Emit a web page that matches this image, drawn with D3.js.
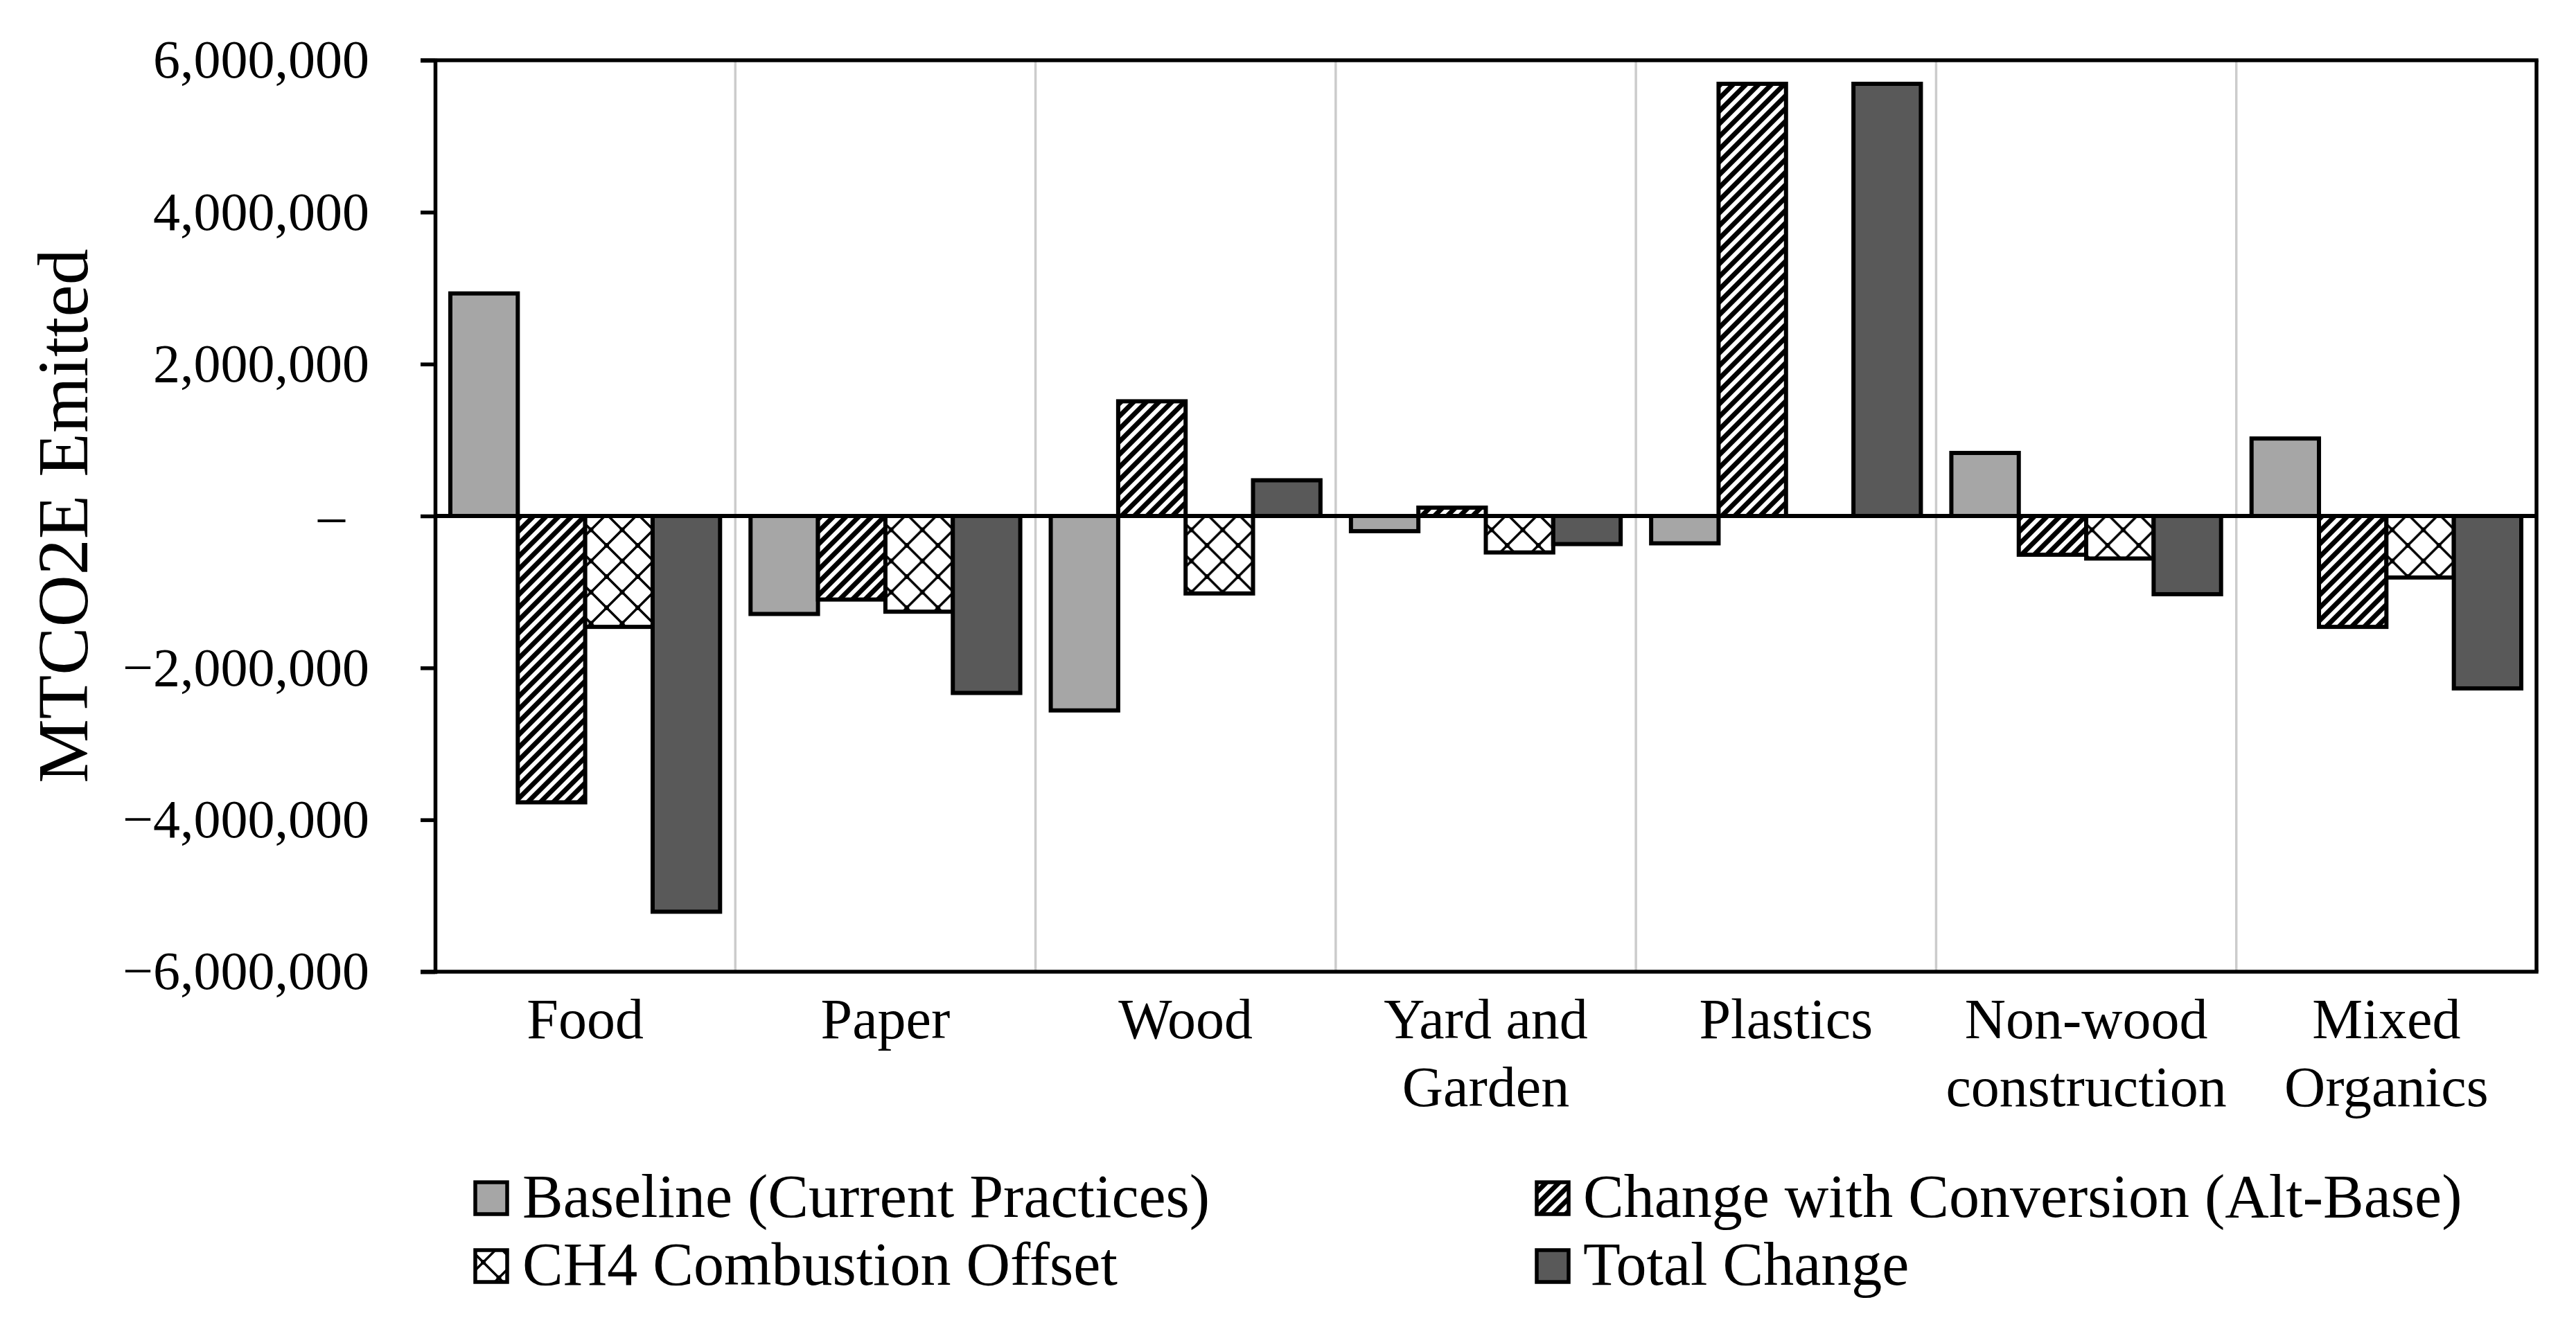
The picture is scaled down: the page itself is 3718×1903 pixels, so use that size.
<!DOCTYPE html>
<html>
<head>
<meta charset="utf-8">
<script src="https://cdn.jsdelivr.net/npm/d3@7"></script>
<style>
  html, body { margin: 0; padding: 0; background: #ffffff; }
  svg { display: block; font-family: "Liberation Serif", "Times New Roman", serif; }
</style>
</head>
<body>
<svg id="chart" width="3718" height="1903"></svg>
<script>
// ---------- data ----------
const categories = ["Food", "Paper", "Wood", "Yard and Garden", "Plastics", "Non-wood construction", "Mixed Organics"];
const categoryLines = [["Food"], ["Paper"], ["Wood"], ["Yard and", "Garden"], ["Plastics"], ["Non-wood", "construction"], ["Mixed", "Organics"]];
const seriesNames = ["Baseline (Current Practices)", "Change with Conversion (Alt-Base)", "CH4 Combustion Offset", "Total Change"];
const baseline   = [2930000, -1290000, -2560000, -200000, -360000, 830000, 1020000];
const conversion = [-3770000, -1100000, 1510000, 110000, 5690000, -510000, -1460000];
const ch4Offset  = [-1460000, -1260000, -1020000, -480000, 0, -560000, -810000];
const totalChange = [-5210000, -2330000, 470000, -370000, 5690000, -1030000, -2270000];
const yTicks = [-6000000, -4000000, -2000000, 0, 2000000, 4000000, 6000000];
const yTitle = "MTCO2E Emitted";

const seriesValues = [baseline, conversion, ch4Offset, totalChange];
const fills = ["#a6a6a6", "url(#stripes)", "url(#diamonds)", "#595959"];

// ---------- layout ----------
const plot = { left: 628, right: 3661, top: 87, bottom: 1403 };
const svg = d3.select("#chart");

// patterns
const defs = svg.append("defs");
const stripes = defs.append("pattern")
  .attr("id", "stripes").attr("patternUnits", "userSpaceOnUse")
  .attr("width", 13).attr("height", 13)
  .attr("patternTransform", "rotate(45)");
stripes.append("rect").attr("width", 13).attr("height", 13).attr("fill", "#ffffff");
stripes.append("rect").attr("x", 0).attr("width", 7).attr("height", 13).attr("fill", "#000000");

const dia = defs.append("pattern")
  .attr("id", "diamonds").attr("patternUnits", "userSpaceOnUse")
  .attr("width", 45).attr("height", 45);
dia.append("rect").attr("width", 45).attr("height", 45).attr("fill", "#ffffff");
dia.append("path").attr("d", "M0,0L45,45M45,0L0,45")
  .attr("stroke", "#000").attr("stroke-width", 3.5).attr("fill", "none");
[[0,0],[45,0],[0,45],[45,45],[22.5,22.5]].forEach(p => {
  dia.append("circle").attr("cx", p[0]).attr("cy", p[1]).attr("r", 3.5).attr("fill", "#000");
});

// scales
const y = d3.scaleLinear().domain([-6000000, 6000000]).range([plot.bottom, plot.top]);
const x0 = d3.scaleBand().domain(categories).range([plot.left, plot.right]).paddingInner(0).paddingOuter(0);
const x1 = d3.scaleBand().domain(d3.range(seriesNames.length)).range([0, x0.bandwidth()])
  .paddingInner(0).paddingOuter(0.226);

// category dividers
svg.append("g").selectAll("line")
  .data(categories.slice(1))
  .join("line")
  .attr("x1", d => x0(d)).attr("x2", d => x0(d))
  .attr("y1", plot.top).attr("y2", plot.bottom)
  .attr("stroke", "#cccccc").attr("stroke-width", 3.5);

// bars
const groups = svg.append("g").selectAll("g")
  .data(categories)
  .join("g")
  .attr("transform", d => `translate(${x0(d)},0)`);

groups.selectAll("rect")
  .data((d, i) => seriesValues.map((vals, s) => ({ s, v: vals[i] })))
  .join("rect")
  .attr("x", d => x1(d.s))
  .attr("width", x1.bandwidth())
  .attr("y", d => y(Math.max(0, d.v)))
  .attr("height", d => Math.abs(y(d.v) - y(0)))
  .attr("fill", d => fills[d.s])
  .attr("stroke", d => d.v === 0 ? "none" : "#000")
  .attr("stroke-width", 6);

// plot frame: top and right borders, bottom line
svg.append("line").attr("x1", plot.left - 21).attr("x2", plot.right + 2.75)
  .attr("y1", plot.top).attr("y2", plot.top).attr("stroke", "#000").attr("stroke-width", 5.5);
svg.append("line").attr("x1", plot.right).attr("x2", plot.right)
  .attr("y1", plot.top).attr("y2", plot.bottom).attr("stroke", "#000").attr("stroke-width", 5.5);
svg.append("line").attr("x1", plot.left - 21).attr("x2", plot.right + 2.75)
  .attr("y1", plot.bottom).attr("y2", plot.bottom).attr("stroke", "#000").attr("stroke-width", 5.5);
// zero line
svg.append("line").attr("x1", plot.left).attr("x2", plot.right)
  .attr("y1", y(0)).attr("y2", y(0)).attr("stroke", "#000").attr("stroke-width", 6);

// y axis
const fmt = d3.format(",");
const yAxis = d3.axisLeft(y).tickValues(yTicks).tickSize(21).tickPadding(74)
  .tickFormat(d => d === 0 ? "–" : fmt(d));
const yg = svg.append("g").attr("transform", `translate(${plot.left},0)`).call(yAxis);
yg.select(".domain").attr("stroke", "#000").attr("stroke-width", 5.5);
yg.selectAll(".tick line").attr("stroke", "#000").attr("stroke-width", 5.5);
yg.selectAll(".tick text")
  .attr("fill", "#000")
  .style("font-family", "'Liberation Serif', 'Times New Roman', serif")
  .style("font-size", "78px")
  .attr("x", d => d === 0 ? -130 : -95);

// y title
svg.append("text")
  .attr("transform", `translate(90, ${(plot.top + plot.bottom) / 2}) rotate(-90)`)
  .attr("text-anchor", "middle")
  .attr("dominant-baseline", "central")
  .style("font-size", "104px")
  .attr("fill", "#000")
  .text(yTitle);

// category labels
const catG = svg.append("g").selectAll("text")
  .data(categories)
  .join("text")
  .attr("x", d => x0(d) + x0.bandwidth() / 2)
  .attr("text-anchor", "middle")
  .style("font-size", "82px")
  .attr("fill", "#000");
catG.each(function(d, i) {
  const t = d3.select(this);
  categoryLines[i].forEach((line, j) => {
    t.append("tspan")
      .attr("x", x0(d) + x0.bandwidth() / 2)
      .attr("y", 1499 + j * 98)
      .text(line);
  });
});

// legend
const legendPos = [
  { sx: 686, tx: 754, base: 1757 },
  { sx: 2218, tx: 2285, base: 1757 },
  { sx: 686, tx: 754, base: 1855 },
  { sx: 2218, tx: 2285, base: 1855 }
];
const legend = svg.append("g").selectAll("g")
  .data(seriesNames)
  .join("g");
legend.append("rect")
  .attr("x", (d, i) => legendPos[i].sx)
  .attr("y", (d, i) => legendPos[i].base - 50)
  .attr("width", 46).attr("height", 46)
  .attr("fill", (d, i) => fills[i])
  .attr("stroke", "#000").attr("stroke-width", 5.5);
legend.append("text")
  .attr("x", (d, i) => legendPos[i].tx)
  .attr("y", (d, i) => legendPos[i].base)
  .style("font-size", "88px")
  .attr("fill", "#000")
  .text(d => d);
</script>
</body>
</html>
